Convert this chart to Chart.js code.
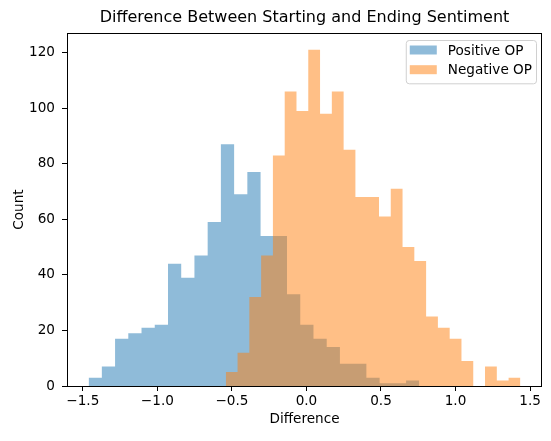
<!DOCTYPE html>
<html>
<head>
<meta charset="utf-8">
<script src="https://cdn.jsdelivr.net/npm/chart.js@4/dist/chart.umd.min.js"></script>
<style>
  html, body { margin: 0; padding: 0; background: #ffffff; }
  #wrap { width: 551px; height: 441px; }
</style>
</head>
<body>
<div id="wrap"><canvas id="c" width="551" height="441"></canvas></div>
<script>
// Histogram of sentiment change, 25 bins per group
const chartTitle = 'Difference Between Starting and Ending Sentiment';
const xLabel = 'Difference';
const yLabel = 'Count';
const seriesNames = ['Positive OP', 'Negative OP'];

// bin counts
const positiveCounts = [3, 7, 17, 19, 21, 22, 44, 39, 47, 59, 87, 69, 77, 54, 54, 33, 22, 17, 14, 8, 8, 3, 1, 1, 2];
const negativeCounts = [5, 12, 32, 47, 83, 106, 99, 121, 98, 106, 85, 68, 68, 61, 71, 50, 45, 25, 21, 17, 9, 0, 7, 2, 3];

// data range covered by each group's bins
const positiveRange = [-1.461, 0.757];
const negativeRange = [-0.541, 1.435];

// axis ticks
const xTicks = [-1.5, -1.0, -0.5, 0.0, 0.5, 1.0, 1.5];
const yTicks = [0, 20, 40, 60, 80, 100, 120];

const xLimits = [-1.606, 1.580];
const yLimits = [0, 127.05];

const blueFill = 'rgba(31, 119, 180, 0.5)';
const orangeFill = 'rgba(255, 127, 14, 0.5)';
const FONT = 'DejaVu Sans';
const SMALL = 13.6;

// Left bin edges with their counts, plus a closing point at the last edge,
// so a stepped line filled to zero traces the histogram outline.
function binOutline(counts, range) {
  const n = counts.length;
  const width = (range[1] - range[0]) / n;
  const pts = counts.map((c, i) => ({ x: range[0] + i * width, y: c }));
  pts.push({ x: range[1], y: counts[n - 1] });
  return pts;
}

function fmtTick(v) {
  return v.toFixed(1).replace('-', '\u2212');
}

// Full box around the plotting area
const frame = {
  id: 'frame',
  afterDatasetsDraw(chart) {
    const { ctx, chartArea: a } = chart;
    ctx.save();
    ctx.strokeStyle = '#000';
    ctx.lineWidth = 1;
    ctx.strokeRect(Math.round(a.left) + 0.5, Math.round(a.top) + 0.5,
                   Math.round(a.right - a.left) - 1, Math.round(a.bottom - a.top));
    ctx.restore();
  }
};

// Boxed legend in the upper-right corner of the plot
const boxLegend = {
  id: 'boxLegend',
  afterDraw(chart) {
    const { ctx, chartArea: a } = chart;
    const items = chart.data.datasets.map(d => ({ label: d.label, color: d.backgroundColor }))
      .sort((p, q) => seriesNames.indexOf(p.label) - seriesNames.indexOf(q.label));
    ctx.save();
    ctx.font = SMALL + 'px "' + FONT + '"';
    const textW = Math.max(...items.map(it => ctx.measureText(it.label).width));
    const padL = 4, patchW = 27, patchH = 9, gap = 11, padR = 4;
    const rowH = 19.7;
    const boxW = padL + patchW + gap + textW + padR;
    const boxH = 43.3;
    const right = a.right - 6;
    const left = right - boxW;
    const top = a.top + 7;
    ctx.beginPath();
    ctx.roundRect(left + 0.5, top + 0.5, boxW, boxH, 3);
    ctx.fillStyle = 'rgba(255,255,255,0.8)';
    ctx.fill();
    ctx.strokeStyle = '#d0d0d0';
    ctx.lineWidth = 1;
    ctx.stroke();
    items.forEach((it, i) => {
      const cy = top + 10 + i * rowH;
      ctx.fillStyle = it.color;
      ctx.fillRect(left + padL, cy - patchH / 2, patchW, patchH);
      ctx.fillStyle = '#000';
      ctx.textBaseline = 'middle';
      ctx.textAlign = 'left';
      ctx.fillText(it.label, left + padL + patchW + gap, cy + 1);
    });
    ctx.restore();
  }
};

new Chart(document.getElementById('c'), {
  type: 'line',
  data: {
    datasets: [
      {
        label: seriesNames[0],
        data: binOutline(positiveCounts, positiveRange),
        backgroundColor: blueFill,
        borderColor: 'transparent',
        borderWidth: 0,
        fill: 'origin',
        stepped: true,
        pointRadius: 0,
        pointHoverRadius: 0,
        order: 1
      },
      {
        label: seriesNames[1],
        data: binOutline(negativeCounts, negativeRange),
        backgroundColor: orangeFill,
        borderColor: 'transparent',
        borderWidth: 0,
        fill: 'origin',
        stepped: true,
        pointRadius: 0,
        pointHoverRadius: 0,
        order: 0
      }
    ]
  },
  options: {
    responsive: false,
    animation: false,
    events: [],
    layout: { padding: { top: 0, right: 9, bottom: 0, left: 0 } },
    plugins: {
      legend: { display: false },
      tooltip: { enabled: false },
      title: {
        display: true,
        text: chartTitle,
        fullSize: false,
        color: '#000',
        font: { family: FONT, size: 16, weight: 'normal', lineHeight: 1.2 },
        padding: { top: 8, bottom: 5.8 }
      }
    },
    scales: {
      x: {
        type: 'linear',
        min: xLimits[0],
        max: xLimits[1],
        afterBuildTicks: s => { s.ticks = xTicks.map(v => ({ value: v })); },
        afterFit: s => { s.height = 55; },
        grid: { display: true, drawOnChartArea: false, drawTicks: true, tickLength: 5, color: '#000', lineWidth: 1 },
        border: { display: false },
        ticks: {
          color: '#000',
          padding: 2,
          maxRotation: 0,
          autoSkip: false,
          font: { family: FONT, size: SMALL },
          callback: v => fmtTick(v)
        },
        title: {
          display: true,
          text: xLabel,
          color: '#000',
          font: { family: FONT, size: SMALL },
          padding: { top: 0, bottom: 13 }
        }
      },
      y: {
        type: 'linear',
        min: yLimits[0],
        max: yLimits[1],
        afterBuildTicks: s => { s.ticks = yTicks.map(v => ({ value: v })); },
        afterFit: s => { s.width = 67; },
        grid: { display: true, drawOnChartArea: false, drawTicks: true, tickLength: 5, color: '#000', lineWidth: 1 },
        border: { display: false },
        ticks: {
          color: '#000',
          padding: 7,
          autoSkip: false,
          font: { family: FONT, size: SMALL },
          callback: v => String(v)
        },
        title: {
          display: true,
          text: yLabel,
          color: '#000',
          font: { family: FONT, size: SMALL },
          padding: { top: 11, bottom: 0 }
        }
      }
    }
  },
  plugins: [frame, boxLegend]
});
</script>
</body>
</html>
